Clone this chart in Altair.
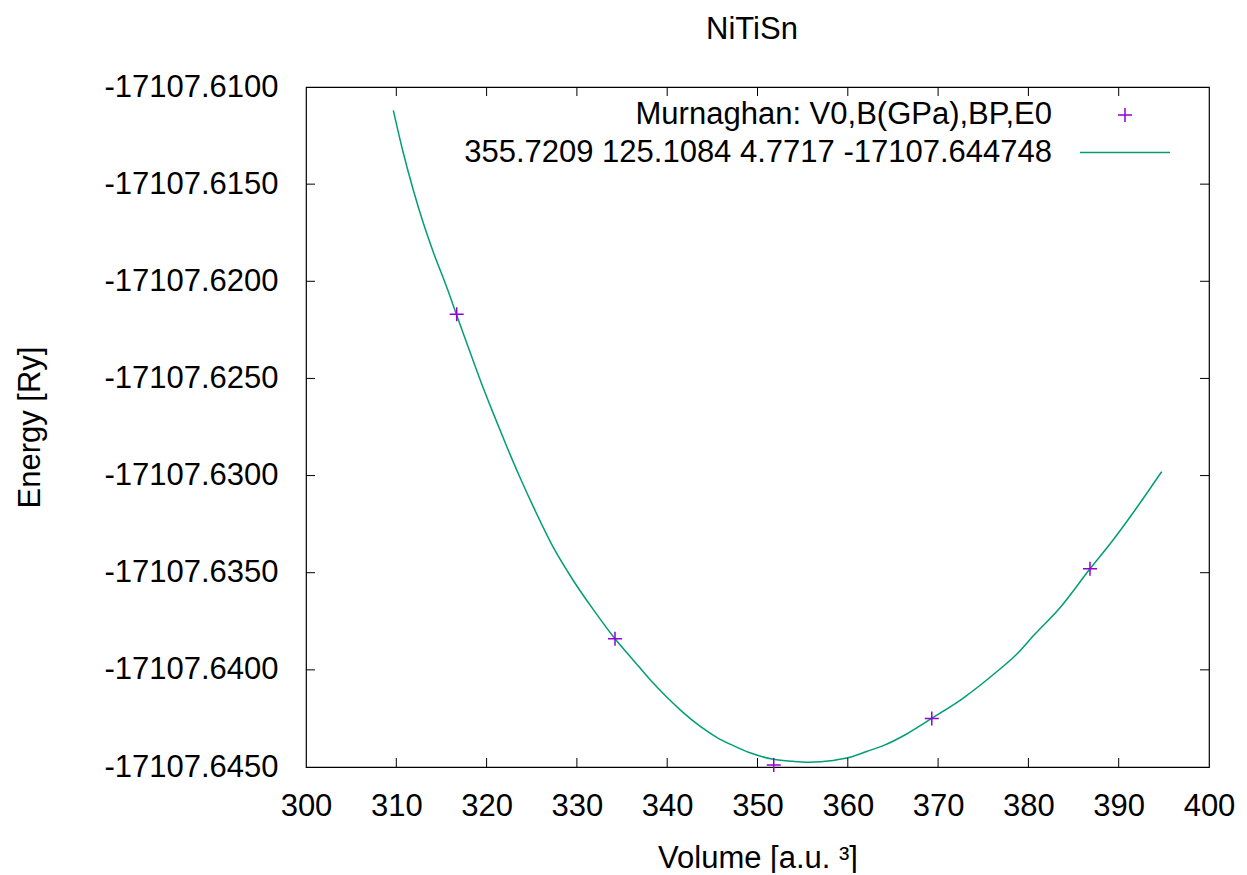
import altair as alt
import pandas as pd

# ---- data ----
title_text = "NiTiSn"
x_title = "Volume [a.u. ³]"
y_title = "Energy [Ry]"
legend_labels = ["Murnaghan: V0,B(GPa),BP,E0", "355.7209 125.1084 4.7717 -17107.644748"]

x_ticks = [300, 310, 320, 330, 340, 350, 360, 370, 380, 390, 400]
y_ticks = [-17107.645, -17107.640, -17107.635, -17107.630, -17107.625,
           -17107.620, -17107.615, -17107.610]

point_volume = [316.69, 334.22, 351.80, 369.30, 386.82]
point_energy = [-17107.6217, -17107.6384, -17107.6449, -17107.6425, -17107.6348]

curve_volume = [309.67, 310.78, 311.88, 312.99, 314.10, 315.58, 316.69, 317.97,
                319.27, 320.74, 322.23, 323.70, 325.17, 327.39, 329.60, 331.82,
                334.22, 336.25, 338.09, 339.94, 341.78, 343.63, 345.48, 347.32,
                349.17, 351.75, 353.96, 355.63, 358.39, 360.24, 362.09, 363.93,
                366.52, 369.29, 372.79, 376.49, 378.70, 380.54, 383.50, 386.82,
                389.40, 391.62, 394.76]
curve_energy = [-17107.6112, -17107.6134, -17107.6153, -17107.6170, -17107.6185,
                -17107.6203, -17107.62175, -17107.6234, -17107.62505, -17107.6268,
                -17107.6285, -17107.6301, -17107.6316, -17107.6337, -17107.6354,
                -17107.6369, -17107.6384, -17107.6395, -17107.6405, -17107.6414,
                -17107.6422, -17107.6429, -17107.64347, -17107.6439, -17107.64427,
                -17107.6446, -17107.64471, -17107.64475, -17107.64466, -17107.6445,
                -17107.6442, -17107.6439, -17107.6433, -17107.6425, -17107.64145,
                -17107.6401, -17107.6392, -17107.63825, -17107.6368, -17107.6348,
                -17107.6333, -17107.6319, -17107.6298]

# ---- styling ----
W, H = 903, 680
FONT = "Liberation Sans"
FS = 31
LINE_COLOR = "#009E73"
PT_COLOR = "#9400D3"
PLUS = "M-1,0L1,0M0,-1L0,1"
TICK = 9

xs = alt.Scale(domain=[300, 400], nice=False, zero=False)
ys = alt.Scale(domain=[-17107.645, -17107.610], nice=False, zero=False)

x_axis = alt.Axis(values=x_ticks, format="d", ticks=False, tickSize=0, domain=False,
                  grid=False, labelFont=FONT, labelFontSize=FS, labelPadding=24,
                  labelFlush=False, labelOverlap=False, labelLimit=0,
                  labelColor="black", title=x_title, titleFont=FONT, titleFontSize=FS,
                  titleFontWeight="normal", titleColor="black", titlePadding=22)
y_axis = alt.Axis(values=y_ticks, ticks=False, tickSize=0, domain=False,
                  labelExpr="replace(format(datum.value, '.4f'), '\u2212', '-')",
                  grid=False, labelFont=FONT, labelFontSize=FS, labelPadding=28,
                  labelFlush=False, labelOverlap=False, labelLimit=0,
                  labelColor="black", title=y_title, titleFont=FONT, titleFontSize=FS,
                  titleFontWeight="normal", titleColor="black", titlePadding=60)

X = lambda: alt.X("V:Q", scale=xs, axis=x_axis)
Y = lambda: alt.Y("E:Q", scale=ys, axis=y_axis)

curve_df = pd.DataFrame({"V": curve_volume, "E": curve_energy})
pts_df = pd.DataFrame({"V": point_volume, "E": point_energy})
xt_df = pd.DataFrame({"V": x_ticks[1:-1]})
yt_df = pd.DataFrame({"E": y_ticks[1:-1]})
one = pd.DataFrame({"k": [0]})

curve = alt.Chart(curve_df).mark_line(color=LINE_COLOR, strokeWidth=1.5,
                                      interpolate="monotone").encode(x=X(), y=Y())

points = alt.Chart(pts_df).mark_point(shape=PLUS, size=196, filled=False,
                                      color=PT_COLOR, strokeWidth=1.5, opacity=1).encode(
    x=X(), y=Y())

tick_style = dict(color="black", strokeWidth=1)
xt_bottom = alt.Chart(xt_df).mark_rule(**tick_style).encode(
    x=X(), y=alt.value(H), y2=alt.value(H - TICK))
xt_top = alt.Chart(xt_df).mark_rule(**tick_style).encode(
    x=X(), y=alt.value(0), y2=alt.value(TICK))
yt_left = alt.Chart(yt_df).mark_rule(**tick_style).encode(
    y=Y(), x=alt.value(0), x2=alt.value(TICK))
yt_right = alt.Chart(yt_df).mark_rule(**tick_style).encode(
    y=Y(), x=alt.value(W), x2=alt.value(W - TICK))

title_mark = alt.Chart(one).mark_text(text=title_text, align="center",
                                      baseline="alphabetic", font=FONT, fontSize=FS,
                                      color="black").encode(x=alt.value(446), y=alt.value(-48.5))
leg_txt1 = alt.Chart(one).mark_text(text=legend_labels[0], align="right",
                                    baseline="alphabetic", font=FONT, fontSize=FS,
                                    color="black").encode(x=alt.value(746), y=alt.value(36.5))
leg_txt2 = alt.Chart(one).mark_text(text=legend_labels[1], align="right",
                                    baseline="alphabetic", font=FONT, fontSize=FS,
                                    color="black").encode(x=alt.value(746), y=alt.value(75))
leg_sym = alt.Chart(one).mark_point(shape=PLUS, size=196, filled=False, color=PT_COLOR,
                                    strokeWidth=1.5, opacity=1).encode(
    x=alt.value(819), y=alt.value(28))
leg_line = alt.Chart(one).mark_rule(color=LINE_COLOR, strokeWidth=1.5).encode(
    x=alt.value(774), x2=alt.value(864), y=alt.value(65.5))

chart = alt.layer(
    curve, points, xt_bottom, xt_top, yt_left, yt_right,
    title_mark, leg_txt1, leg_txt2, leg_sym, leg_line,
).properties(
    width=W, height=H,
    padding={"left": 298, "top": 79, "right": 30, "bottom": 106},
    autosize="none",
).configure(background="white").configure_view(stroke="black", strokeWidth=1.2)

chart.save("out.html", embed_options={"renderer": "svg", "actions": False})
